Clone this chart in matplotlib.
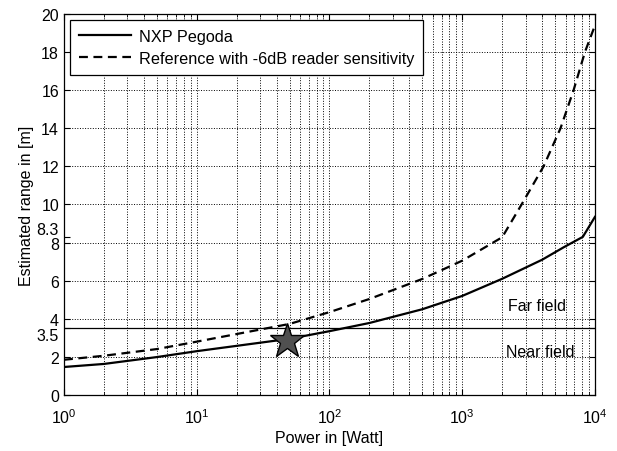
import matplotlib
matplotlib.use("Agg")
import matplotlib.pyplot as plt
from matplotlib.ticker import LogLocator, NullFormatter

plt.rcParams['font.family'] = ['Liberation Sans', 'DejaVu Sans']
plt.rcParams['font.size'] = 11

# NXP Pegoda (solid)
power_nxp = [1, 2, 5, 10, 20, 50, 100, 200, 500, 1000, 2000, 4000, 5800, 8100, 10000]
range_nxp = [1.47, 1.63, 1.99, 2.3, 2.58, 2.95, 3.35, 3.78, 4.5, 5.2, 6.1, 7.1, 7.75, 8.3, 9.35]

# Reference with -6dB reader sensitivity (dashed)
power_ref = [1, 2, 5, 10, 20, 50, 100, 200, 500, 1000, 2000, 2800, 4100, 5500, 6900, 8400, 10000]
range_ref = [1.85, 2.06, 2.41, 2.8, 3.2, 3.73, 4.35, 5.04, 6.09, 7.05, 8.28, 10, 12, 14, 16, 18, 19.4]

# operating point
star_power = 47.5
star_range = 2.85

field_limit = 3.5
yticks = [0, 2, 3.5, 4, 6, 8, 8.3, 10, 12, 14, 16, 18, 20]
yticklabels = ["0", "2", "3.5", "4", "6", "8", "8.3", "10", "12", "14", "16", "18", "20"]

fig = plt.figure(figsize=(6.17, 4.52), dpi=100)
ax = fig.add_axes([0.1037, 0.1239, 0.8606, 0.843])

ax.plot(power_nxp, range_nxp, color="black", lw=1.6, label="NXP Pegoda")
ax.plot(power_ref, range_ref, color="black", lw=1.6, dashes=(4, 2.5),
        label="Reference with -6dB reader sensitivity")
ax.axhline(field_limit, color="black", lw=0.9)
ax.plot([star_power], [star_range], marker="*", markersize=26,
        markerfacecolor="#505050", markeredgecolor="black", markeredgewidth=1.0,
        linestyle="none")

ax.text(3650, 4.72, "Far field", ha="center", va="center", fontsize=11.5)
ax.text(3850, 2.26, "Near field", ha="center", va="center", fontsize=11.5)

ax.set_xscale("log")
ax.set_xlim(1, 1e4)
ax.set_ylim(0, 20)
ax.set_yticks(yticks)
ax.set_yticklabels(yticklabels)
ax.xaxis.set_minor_locator(LogLocator(base=10, subs=range(2, 10), numticks=20))
ax.xaxis.set_minor_formatter(NullFormatter())

ax.tick_params(which="both", direction="in", top=True, right=True, colors="black")
ax.tick_params(which="major", length=4, labelsize=11.5)
ax.tick_params(which="minor", length=2)
ax.tick_params(axis="x", which="major", pad=9)

# nudge the crowded labels apart like the original
for lab, t in zip(ax.get_yticklabels(), yticks):
    if t == 8.3:
        lab.set_va("bottom")
    elif t == 3.5:
        lab.set_va("top")

ax.grid(True, which="major", axis="both", linestyle=":", color="black", lw=0.7)
ax.grid(True, which="minor", axis="x", linestyle=":", color="black", lw=0.7)
# no dotted grid at the 3.5 and 8.3 ticks
for i, t in enumerate(yticks):
    if t in (3.5, 8.3):
        ax.get_ygridlines()[i].set_visible(False)

for s in ax.spines.values():
    s.set_linewidth(0.9)

ax.set_xlabel("Power in [Watt]", labelpad=3, fontsize=11.5)
ax.set_ylabel("Estimated range in [m]", labelpad=2, fontsize=11.5)

leg = ax.legend(loc="upper left", handlelength=3.2, fancybox=False,
                edgecolor="black", framealpha=1, borderaxespad=0.35,
                labelspacing=0.45, borderpad=0.55, fontsize=11.7, handletextpad=0.5)
leg.get_frame().set_linewidth(0.9)

plt.savefig("out.png", dpi=100)
